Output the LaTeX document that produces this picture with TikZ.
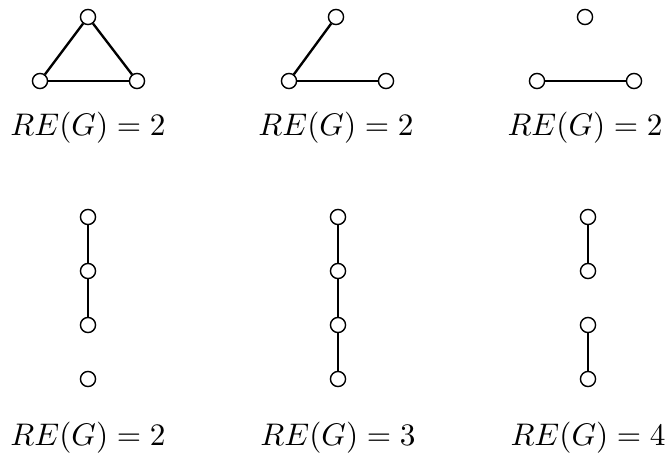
\documentclass[tikz,border=0pt]{standalone}
\usepackage{amsmath,amssymb}
\usepackage{tikz}
\usetikzlibrary{positioning}

\begin{document}
\begin{tikzpicture}[
  x=0.01124cm, y=-0.01124cm,
  vtx/.style={circle, draw, fill=white, line width=0.45pt, inner sep=0pt,
    minimum size=0.17cm},
  edge/.style={line width=0.75pt},
  lbl/.style={anchor=base}
]
\useasboundingbox (0,0) rectangle (669,452);

% top row
\node[vtx] (a1) at (88,17) {};
\node[vtx] (a2) at (40,81) {};
\node[vtx] (a3) at (137,81) {};
\node[lbl] (la) at (88,136) {$RE(G)=2$};

\node[vtx] (b1) at (336,17) {};
\node[vtx] (b2) at (289,81) {};
\node[vtx] (b3) at (386,81) {};
\node[lbl] (lb) at (336,136) {$RE(G)=2$};

\node[vtx] (c1) at (585,17) {};
\node[vtx] (c2) at (537,81) {};
\node[vtx] (c3) at (634,81) {};
\node[lbl] (lc) at (585,136) {$RE(G)=2$};

% bottom row
\node[vtx] (d1) at (88,217) {};
\node[vtx] (d2) at (88,271) {};
\node[vtx] (d3) at (88,325) {};
\node[vtx] (d4) at (88,379) {};
\node[lbl] (ld) at (88,445) {$RE(G)=2$};

\node[vtx] (e1) at (338,217) {};
\node[vtx] (e2) at (338,271) {};
\node[vtx] (e3) at (338,325) {};
\node[vtx] (e4) at (338,379) {};
\node[lbl] (le) at (338,445) {$RE(G)=3$};

\node[vtx] (f1) at (588,217) {};
\node[vtx] (f2) at (588,271) {};
\node[vtx] (f3) at (588,325) {};
\node[vtx] (f4) at (588,379) {};
\node[lbl] (lf) at (588,445) {$RE(G)=4$};

\draw[edge] (a1) -- (a2);
\draw[edge] (a2) -- (a3);
\draw[edge] (a3) -- (a1);
\draw[edge] (b1) -- (b2);
\draw[edge] (b2) -- (b3);
\draw[edge] (c2) -- (c3);

\draw[edge] (d1) -- (d2);
\draw[edge] (d2) -- (d3);
\draw[edge] (e1) -- (e2);
\draw[edge] (e2) -- (e3);
\draw[edge] (e3) -- (e4);
\draw[edge] (f1) -- (f2);
\draw[edge] (f3) -- (f4);

\end{tikzpicture}
\end{document}
